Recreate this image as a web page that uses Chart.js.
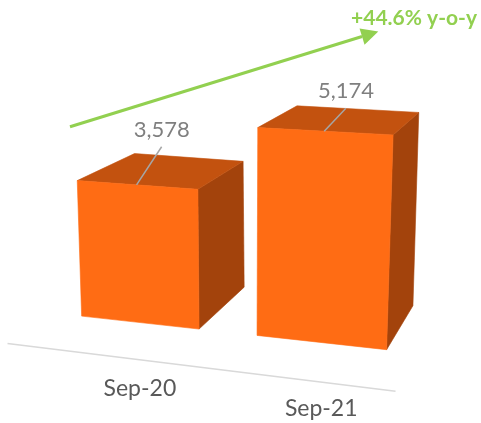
<!DOCTYPE html>
<html>
<head>
<meta charset="utf-8">
<script src="https://cdn.jsdelivr.net/npm/chart.js@4/dist/chart.umd.min.js"></script>
<style>
  html, body { margin: 0; padding: 0; background: #ffffff; }
  #wrap { width: 481px; height: 423px; }
</style>
</head>
<body>
<div id="wrap"><canvas id="c" width="481" height="423"></canvas></div>
<script>
// ---- data ----
const categories = ['Sep-20', 'Sep-21'];
const values = [3578, 5174];
const valueRange = [0, 6000];
const growthPct = ((values[1] / values[0] - 1) * 100).toFixed(1);
const growthText = '+' + growthPct + '% y-o-y';

// ---- view (3D projection) settings ----
const VIEW = {
  quad: { tl: [46.4, 83.3], tr: [427.7, 100.4], br: [418.4, 353.2], bl: [55.1, 313.2] },
  vp: [650, -90],
  depth: 0.1,
  floorFront: -0.08
};
const COLORS = {
  front: '#FF6C14', top: '#C3520F', side: '#A3430C',
  label: '#7F7F7F', leader: '#A6A6A6', cat: '#595959', axis: '#D9D9D9', growth: '#92D050'
};

function makeHomography(q) {
  const [x0, y0] = q.tl, [x1, y1] = q.tr, [x2, y2] = q.br, [x3, y3] = q.bl;
  const dx1 = x1 - x2, dx2 = x3 - x2, dx3 = x0 - x1 + x2 - x3;
  const dy1 = y1 - y2, dy2 = y3 - y2, dy3 = y0 - y1 + y2 - y3;
  const den = dx1 * dy2 - dx2 * dy1;
  const g = (dx3 * dy2 - dx2 * dy3) / den;
  const h = (dx1 * dy3 - dx3 * dy1) / den;
  const a = x1 - x0 + g * x1, b = x3 - x0 + h * x3, c = x0;
  const d = y1 - y0 + g * y1, e = y3 - y0 + h * y3, f = y0;
  return (u, v) => {
    const w = g * u + h * v + 1;
    return [(a * u + b * v + c) / w, (d * u + e * v + f) / w];
  };
}
const H = makeHomography(VIEW.quad);
function toward(p, t) {
  return [p[0] + t * (VIEW.vp[0] - p[0]), p[1] + t * (VIEW.vp[1] - p[1])];
}
function poly(ctx, pts, color) {
  ctx.beginPath();
  ctx.moveTo(pts[0][0], pts[0][1]);
  for (let i = 1; i < pts.length; i++) ctx.lineTo(pts[i][0], pts[i][1]);
  ctx.closePath();
  ctx.fillStyle = color;
  ctx.fill();
  ctx.strokeStyle = color;
  ctx.lineWidth = 0.6;
  ctx.stroke();
}

const bars3d = {
  id: 'bars3d',
  afterDatasetsDraw(chart) {
    const ctx = chart.ctx;
    const ca = chart.chartArea;
    const meta = chart.getDatasetMeta(0);
    const nu = px => (px - ca.left) / ca.width;
    const nv = py => (py - ca.top) / ca.height;
    ctx.save();

    // category axis line (front edge of floor)
    const a0 = toward(H(0, 1), VIEW.floorFront);
    const a1 = toward(H(0.99, 1), VIEW.floorFront);
    ctx.beginPath();
    ctx.moveTo(a0[0], a0[1] - 2);
    ctx.lineTo(a1[0], a1[1] + 3);
    ctx.strokeStyle = COLORS.axis;
    ctx.lineWidth = 1.5;
    ctx.stroke();

    meta.data.forEach((bar, i) => {
      const p = bar.getProps(['x', 'y', 'base', 'width'], true);
      const u0 = nu(p.x - p.width / 2), u1 = nu(p.x + p.width / 2), uc = nu(p.x);
      const vT = nv(p.y), vB = nv(p.base);
      const FTL = H(u0, vT), FTR = H(u1, vT), FBL = H(u0, vB), FBR = H(u1, vB);
      const BTL = toward(FTL, VIEW.depth), BTR = toward(FTR, VIEW.depth), BBR = toward(FBR, VIEW.depth);
      poly(ctx, [FTR, BTR, BBR, FBR], COLORS.side);
      poly(ctx, [FTL, BTL, BTR, FTR], COLORS.top);
      poly(ctx, [FTL, FTR, FBR, FBL], COLORS.front);

      // value label with leader line
      const fc = H(uc, vT);
      const bc = toward(fc, VIEW.depth);
      const tc = [(fc[0] + bc[0]) / 2, (fc[1] + bc[1]) / 2];
      const lx = tc[0] + 8.5 - 22.5 * vT;
      const ly = tc[1] - (15.4 + 47 * vT);
      ctx.beginPath();
      ctx.moveTo(fc[0], fc[1]);
      ctx.lineTo(lx, ly + 10);
      ctx.strokeStyle = COLORS.leader;
      ctx.lineWidth = 1.5;
      ctx.stroke();
      ctx.font = '22px Lato';
      ctx.fillStyle = COLORS.label;
      ctx.textAlign = 'center';
      ctx.textBaseline = 'alphabetic';
      ctx.fillText(values[i].toLocaleString('en-US'), lx, ly);

      // category label
      const bcx = H(uc, vB);
      ctx.font = '23px Lato';
      ctx.fillStyle = COLORS.cat;
      ctx.fillText(chart.data.labels[i], bcx[0] + 0.5, bcx[1] + 74);
    });

    // growth arrow
    const s = [70, 126.7], e = [378.3, 31.5];
    const ang = Math.atan2(e[1] - s[1], e[0] - s[0]);
    const hl = 17, hw = 8.5;
    const bx = e[0] - hl * Math.cos(ang), by = e[1] - hl * Math.sin(ang);
    ctx.beginPath();
    ctx.moveTo(s[0], s[1]);
    ctx.lineTo(bx, by);
    ctx.strokeStyle = COLORS.growth;
    ctx.lineWidth = 3;
    ctx.stroke();
    ctx.beginPath();
    ctx.moveTo(e[0], e[1]);
    ctx.lineTo(bx + hw * Math.sin(ang), by - hw * Math.cos(ang));
    ctx.lineTo(bx - hw * Math.sin(ang), by + hw * Math.cos(ang));
    ctx.closePath();
    ctx.fillStyle = COLORS.growth;
    ctx.fill();

    ctx.font = 'bold 21px Lato';
    ctx.fillStyle = COLORS.growth;
    ctx.textAlign = 'center';
    ctx.fillText(growthText, 414, 25);

    ctx.restore();
  }
};

new Chart(document.getElementById('c'), {
  type: 'bar',
  data: {
    labels: categories,
    datasets: [{
      data: values,
      backgroundColor: 'rgba(0,0,0,0)',
      borderWidth: 0,
      categoryPercentage: 0.85,
      barPercentage: 0.8
    }]
  },
  options: {
    responsive: false,
    devicePixelRatio: 1,
    animation: false,
    layout: { padding: 0 },
    plugins: { legend: { display: false }, tooltip: { enabled: false } },
    scales: {
      x: { display: false },
      y: { display: false, min: valueRange[0], max: valueRange[1] }
    }
  },
  plugins: [bars3d]
});
</script>
</body>
</html>
